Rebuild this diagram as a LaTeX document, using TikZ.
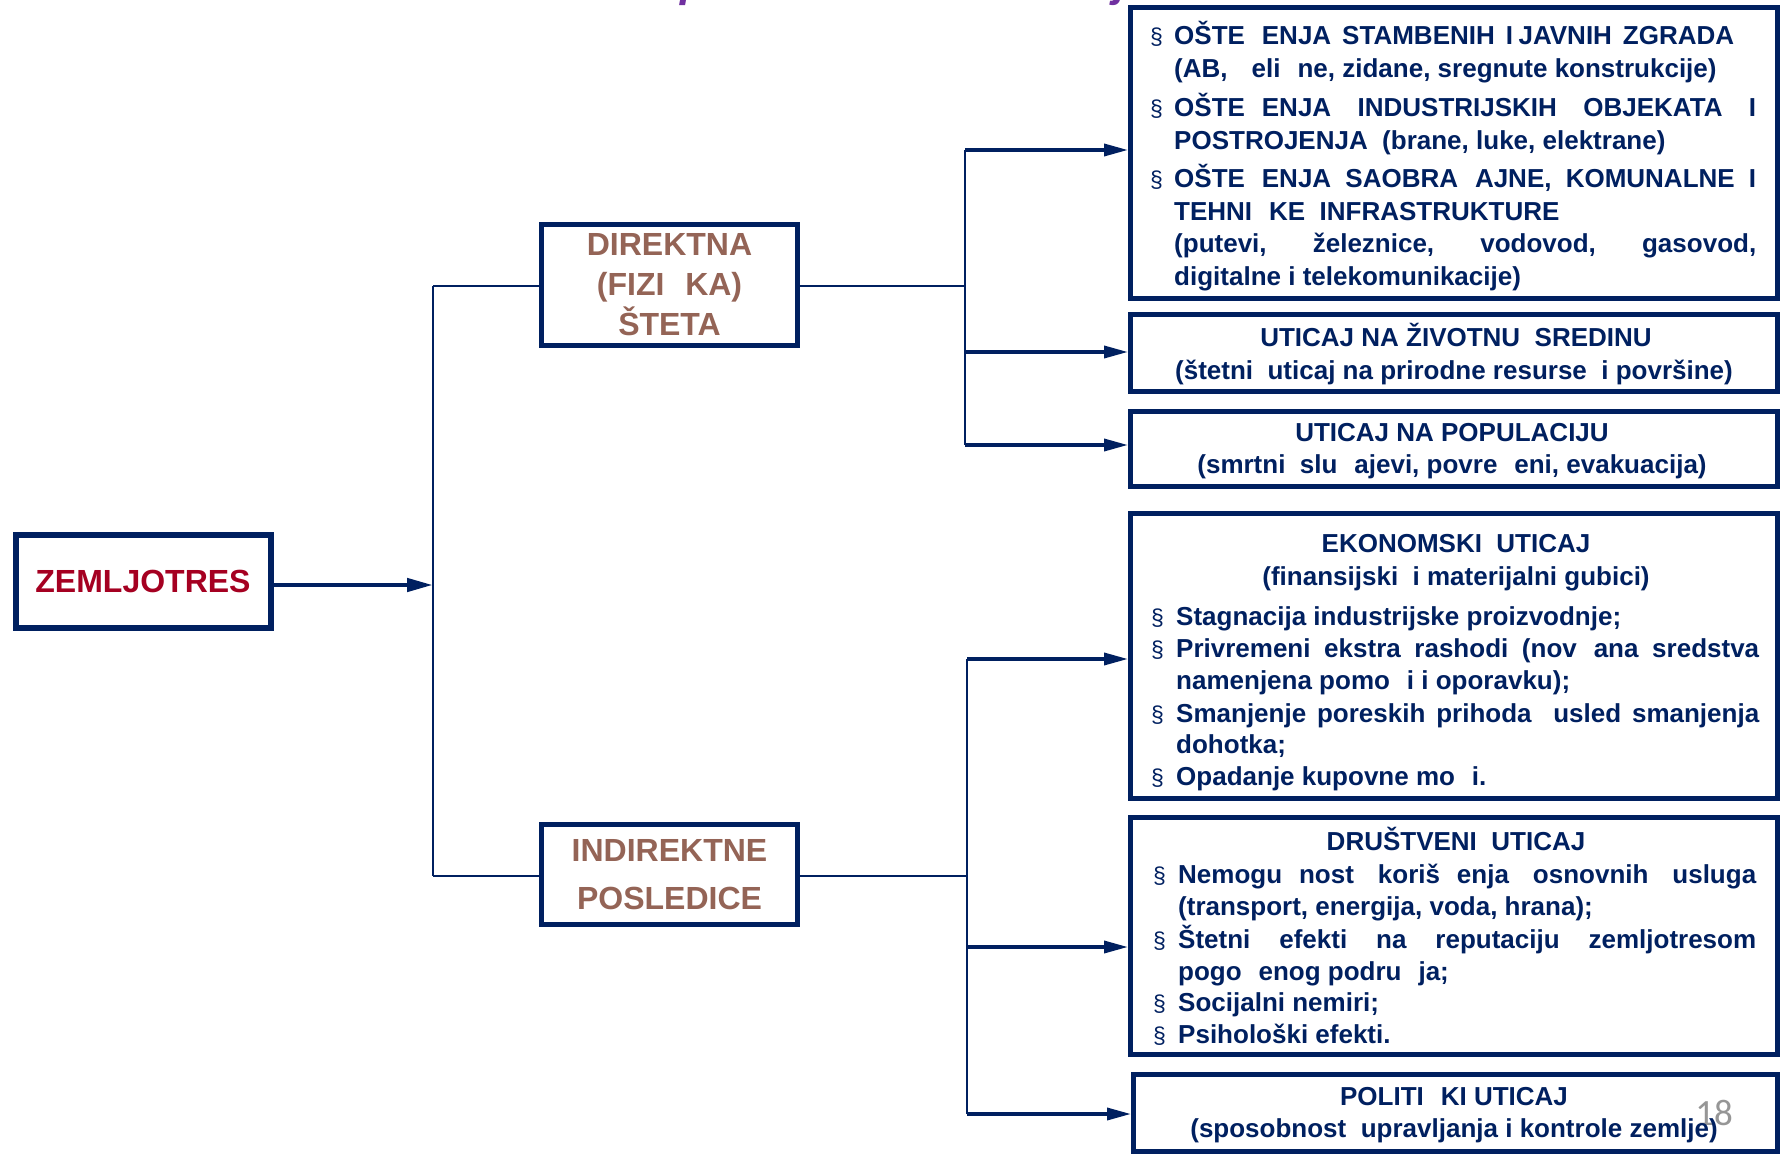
\documentclass[tikz,border=0pt]{standalone}
\usepackage{fontspec}
\setmainfont{Liberation Sans}
\newfontfamily\pagenumfont{Carlito}
\usetikzlibrary{arrows.meta}

\definecolor{navy}{RGB}{0,32,96}
\definecolor{quakered}{RGB}{165,0,33}
\definecolor{clay}{RGB}{148,100,86}
\definecolor{titlepurple}{RGB}{112,48,160}
\definecolor{pagegray}{RGB}{150,150,150}

% gap left by a glyph the slide font could not show
\newcommand\gapc{\hspace{.65em}}
% line spread to a given width
\newcommand\jl[2]{\makebox[#1pt][s]{#2}}

\tikzset{
  frame/.style={draw=navy, line width=5pt, inner sep=0pt, fill=white},
  headtext/.style={font=\fontsize{32}{40}\selectfont\bfseries, align=center},
  txt/.style={anchor=base west, inner sep=0pt, text=navy,
              font=\fontsize{26}{30}\selectfont\bfseries},
  ctr/.style={anchor=base, inner sep=0pt, text=navy,
              font=\fontsize{26}{30}\selectfont\bfseries},
  bul/.style={anchor=base west, inner sep=0pt, text=navy,
              font=\fontsize{23}{26}\selectfont},
  link/.style={draw=navy, line width=2.5pt},
  arr/.style={draw=navy, line width=3.5pt, -{Triangle[length=24pt,width=12pt]}},
}

\begin{document}
\begin{tikzpicture}[x=1pt,y=-1pt]
\useasboundingbox (0,0) rectangle (1782,1155);
\fill[white] (0,0) rectangle (1782,1155);

% descenders of the slide title, cut by the top edge
\begin{scope}
  \clip (0,0) rectangle (1782,1155);
  \node[anchor=base west, inner sep=0pt, text=titlepurple,
        font=\fontsize{44}{44}\selectfont\bfseries\itshape] (titleP) at (680,-3) {p};
  \node[anchor=base west, inner sep=0pt, text=titlepurple,
        font=\fontsize{44}{44}\selectfont\bfseries\itshape] (titleJ) at (1114,-3) {j};
\end{scope}

% ---- left side ----
\node[frame, minimum width=255pt, minimum height=93pt, headtext, text=quakered,
      line width=6pt] (zem) at (143,581) {ZEMLJOTRES};
\node[frame, minimum width=256pt, minimum height=121pt, headtext, text=clay]
      (dir) at (669.5,285) {DIREKTNA\\(FIZI\gapc KA)\\ŠTETA};
\node[frame, minimum width=256pt, minimum height=100pt, text=clay,
      font=\fontsize{32}{48}\selectfont\bfseries, align=center]
      (ind) at (669.5,874.5) {INDIREKTNE\\POSLEDICE};

% ---- right side boxes ----
\node[frame, minimum width=647pt, minimum height=291pt] (b1) at (1454,153) {};
\node[frame, minimum width=647pt, minimum height=77pt]  (b2) at (1454,353) {};
\node[frame, minimum width=647pt, minimum height=75pt]  (b3) at (1454,449) {};
\node[frame, minimum width=647pt, minimum height=285pt] (b4) at (1454,656) {};
\node[frame, minimum width=647pt, minimum height=237pt] (b5) at (1454,936) {};
\node[frame, minimum width=644pt, minimum height=77pt]  (b6) at (1455.5,1113) {};

% ---- connectors ----
\coordinate (tTop) at (433,286);
\coordinate (tMid) at (433,585);
\coordinate (tBot) at (433,876);
\draw[link] (tTop) -- (tBot);
\draw[draw=navy, line width=4.5pt, -{Triangle[length=26pt,width=13pt]}]
      (zem.east |- tMid) -- (tMid);
\draw[link] (tTop) -- (tTop -| dir.west);
\draw[link] (tBot) -- (tBot -| ind.west);

\coordinate (dA) at (965,150);
\coordinate (dM) at (965,286);
\coordinate (dB) at (965,352);
\coordinate (dC) at (965,445);
\draw[link] (dA) -- (dC);
\draw[link] (dir.east |- dM) -- (dM);
\draw[arr] (dA) -- (dA -| b1.west);
\draw[arr] (dB) -- (dB -| b2.west);
\draw[arr] (dC) -- (dC -| b3.west);

\coordinate (iA) at (967,659);
\coordinate (iM) at (967,876);
\coordinate (iB) at (967,947);
\coordinate (iC) at (967,1114);
\draw[link] (iA) -- (iC);
\draw[link] (ind.east |- iM) -- (iM);
\draw[arr] (iA) -- (iA -| b4.west);
\draw[arr] (iB) -- (iB -| b5.west);
\draw[arr] (iC) -- (iC -| b6.west);

% ---- box 1: physical damage ----
\node[bul] (b1s1) at (1150,45)  {§};
\node[txt] (b1t1) at (1174,45)  {\jl{560}{OŠTE\gapc ENJA\ \ STAMBENIH\ \ I JAVNIH\ \ ZGRADA}};
\node[txt] (b1t2) at (1174,78)  {(AB,\ \gapc eli\gapc ne, zidane, sregnute konstrukcije)};
\node[bul] (b1s3) at (1150,117) {§};
\node[txt] (b1t3) at (1174,117) {\jl{582}{OŠTE\gapc ENJA INDUSTRIJSKIH OBJEKATA I}};
\node[txt] (b1t4) at (1174,150) {POSTROJENJA\ \ (brane, luke, elektrane)};
\node[bul] (b1s5) at (1150,188) {§};
\node[txt] (b1t5) at (1174,188) {\jl{582}{OŠTE\gapc ENJA SAOBRA\gapc AJNE, KOMUNALNE I}};
\node[txt] (b1t6) at (1174,221) {TEHNI\gapc KE\ \ INFRASTRUKTURE};
\node[txt] (b1t7) at (1174,253) {\jl{582}{(putevi, železnice, vodovod, gasovod,}};
\node[txt] (b1t8) at (1174,286) {digitalne i telekomunikacije)};

% ---- box 2 and 3 ----
\node[ctr] (b2t1) at (1456,346) {UTICAJ NA ŽIVOTNU\ \ SREDINU};
\node[ctr] (b2t2) at (1454,379) {(štetni\ \ uticaj na prirodne resurse\ \ i površine)};
\node[ctr] (b3t1) at (1452,441) {UTICAJ NA POPULACIJU};
\node[ctr] (b3t2) at (1452,473) {(smrtni\ \ slu\gapc ajevi, povre\gapc eni, evakuacija)};

% ---- box 4: economy ----
\node[ctr] (b4t1) at (1456,552) {EKONOMSKI\ \ UTICAJ};
\node[ctr] (b4t2) at (1456,585) {(finansijski\ \ i materijalni gubici)};
\node[bul] (b4s3) at (1151,625) {§};
\node[txt] (b4t3) at (1176,625) {Stagnacija industrijske proizvodnje;};
\node[bul] (b4s4) at (1151,657) {§};
\node[txt] (b4t4) at (1176,657) {\jl{583}{Privremeni ekstra rashodi (nov\gapc ana sredstva}};
\node[txt] (b4t5) at (1176,689) {namenjena pomo\gapc i i oporavku);};
\node[bul] (b4s6) at (1151,722) {§};
\node[txt] (b4t6) at (1176,722) {\jl{583}{Smanjenje poreskih prihoda\ \ usled smanjenja}};
\node[txt] (b4t7) at (1176,753) {dohotka;};
\node[bul] (b4s8) at (1151,785) {§};
\node[txt] (b4t8) at (1176,785) {Opadanje kupovne mo\gapc i.};

% ---- box 5: society ----
\node[ctr] (b5t1) at (1456,850) {DRUŠTVENI\ \ UTICAJ};
\node[bul] (b5s2) at (1153,883) {§};
\node[txt] (b5t2) at (1178,883) {\jl{578}{Nemogu\gapc nost\ \ koriš\gapc enja\ \ osnovnih\ \ usluga}};
\node[txt] (b5t3) at (1178,915) {(transport, energija, voda, hrana);};
\node[bul] (b5s4) at (1153,948) {§};
\node[txt] (b5t4) at (1178,948) {\jl{578}{Štetni efekti na reputaciju zemljotresom}};
\node[txt] (b5t5) at (1178,980) {pogo\gapc enog podru\gapc ja;};
\node[bul] (b5s6) at (1153,1011) {§};
\node[txt] (b5t6) at (1178,1011) {Socijalni nemiri;};
\node[bul] (b5s7) at (1153,1043) {§};
\node[txt] (b5t7) at (1178,1043) {Psihološki efekti.};

% ---- box 6: politics, with the slide number ----
\node[anchor=base, inner sep=0pt, text=pagegray,
      font=\pagenumfont\fontsize{37}{37}\selectfont] (pageno) at (1714,1125) {18};
\node[ctr] (b6t1) at (1454,1105) {POLITI\gapc KI UTICAJ};
\node[ctr] (b6t2) at (1454,1137) {(sposobnost\ \ upravljanja i kontrole zemlje)};
\end{tikzpicture}
\end{document}
